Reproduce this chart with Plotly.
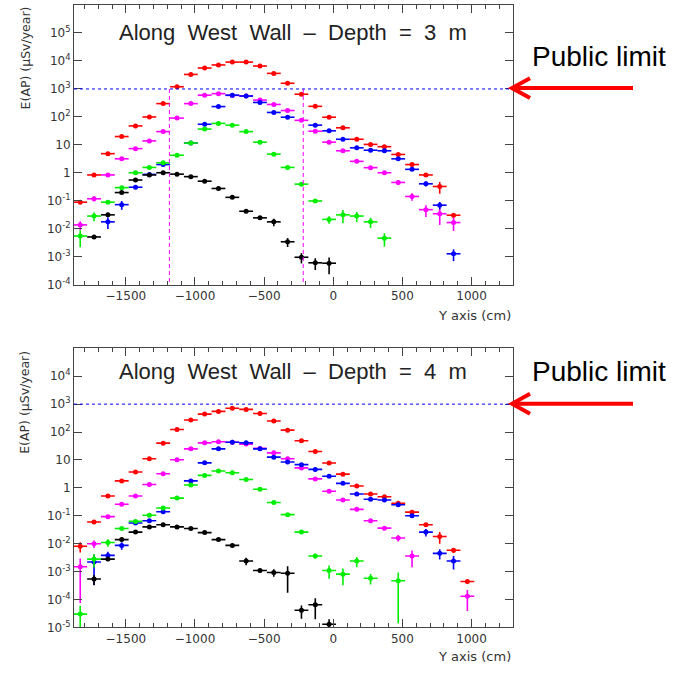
import plotly.graph_objects as go

# ---- data -------------------------------------------------------------
X_BINS = [-1830, -1730, -1630, -1530, -1430, -1330, -1230, -1130, -1030, -930,
          -830, -730, -630, -530, -430, -330, -230, -130, -30, 70,
          170, 270, 370, 470, 570, 670, 770, 870, 970]
BIN_HALF = 50
N = None

# Depth = 3 m
red_3 = [0.091, 0.85, 4.9, 20, 48, 100, 300, 1200, 3300, 5600, 7200, 9100, 9100, 6600, 3600,
         1600, 650, 240, 98, 41, 16, 10.5, 8.7, 4.6, 2.0, 0.85, 0.33, 0.031, N]
magenta_3 = [0.014, 0.12, 0.85, 3.2, 7.4, 14, 30, 91, 300, 600, 680, 590, 560, 400, 280,
             170, 76, 31, 12.6, 6.2, 2.6, 1.55, 1.02, 0.46, 0.145, 0.049, 0.035, 0.017, N]
blue_3 = [N, N, 0.018, 0.074, 0.31, 0.89, 2.0, N, 11.7, 55, 235, 600, 560, 330, 145,
          98, N, 51, 32, 16, 7.9, 6.5, 6.2, 3.2, 1.35, 0.41, 0.071, 0.0013, N]
green_3 = [0.0056, 0.029, 0.091, 0.30, 1.02, 1.58, 2.3, 4.3, 11.7, 37, 59, 51, 30, 12.6, 4.7,
           1.58, 0.40, 0.10, 0.022, 0.032, 0.029, 0.018, 0.0047, N, N, N, N, N, N]
black_3 = [N, 0.0052, 0.032, 0.20, 0.56, 0.85, 1.02, 0.91, 0.74, 0.51, 0.28, 0.135, 0.043, 0.025, 0.018,
           0.0035, 0.00098, 0.00062, 0.0006, N, N, N, N, N, N, N, N, N, N]

# Depth = 4 m
red_4 = [0.0081, 0.060, 0.51, 1.78, 3.7, 11, 40, 123, 270, 440, 550, 710, 650, 460, 250,
         117, 49, 20, 7.8, 3.1, 1.17, 0.60, 0.48, 0.28, 0.135, 0.048, 0.018, 0.0058, 0.00044]
magenta_4 = [0.0015, 0.010, 0.093, 0.26, 0.51, 1.32, 3.2, 10.2, 25, 41, 45, 43, 37, 26, 18,
             11, 5.2, 2.1, 0.76, 0.37, 0.17, 0.066, 0.036, 0.016, 0.0036, N, N, N, 0.00013]
blue_4 = [N, 0.0022, 0.0038, 0.0087, 0.055, 0.066, 0.14, N, 1.78, 7.9, 25, 43, 41, 25, 12.6,
          8.5, 6.8, 4.6, 2.6, 1.45, 0.60, 0.39, 0.37, 0.25, 0.10, 0.026, 0.0045, 0.0024, N]
green_4 = [0.00003, 0.0028, 0.011, 0.035, 0.063, 0.105, 0.19, 0.43, 1.26, 2.8, 4.0, 3.5, 2.0, 0.89, 0.30,
           0.11, 0.026, 0.0036, 0.0011, 0.00081, 0.0024, 0.00058, N, 0.00047, N, N, N, N, N]
black_4 = [N, 0.00054, 0.0028, 0.014, 0.026, 0.040, 0.048, 0.040, 0.035, 0.025, 0.014, 0.0087, 0.0024, 0.0011, 0.00093,
           0.00087, 0.000041, 0.000065, 0.000013, N, N, N, N, N, N, N, N, N, N]

# relative vertical errors (default small)
DEFAULT_REL = 0.05
rel_red_3 = {0: 0.15, 26: 0.45, 27: 0.2}
rel_magenta_3 = {0: 0.35, 1: 0.2, 23: 0.2, 24: 0.3, 25: 0.45, 26: 0.6, 27: 0.5}
rel_blue_3 = {2: 0.45, 3: 0.35, 24: 0.1, 25: 0.2, 26: 0.3, 27: 0.45}
rel_green_3 = {0: 0.6, 1: 0.35, 18: 0.3, 19: 0.5, 20: 0.4, 21: 0.4, 22: 0.5}
rel_black_3 = {14: 0.3, 15: 0.35, 16: 0.4, 17: 0.45, 18: 0.6}

rel_red_4 = {0: 0.4, 26: 0.45, 27: 0.2}
rel_magenta_4 = {0: 0.95, 1: 0.3, 23: 0.25, 24: 0.6, 28: 0.7}
rel_blue_4 = {1: 0.85, 2: 0.35, 3: 0.3, 25: 0.3, 26: 0.4, 27: 0.5}
rel_green_4 = {0: 0.95, 1: 0.5, 2: 0.3, 17: 0.2, 18: 0.5, 19: 0.6, 20: 0.4, 21: 0.4, 23: 0.97}
rel_black_4 = {1: 0.4, 12: 0.3, 14: 0.3, 15: 0.8, 16: 0.5, 17: 0.7, 18: 0.5}

Y_TICK_EXP_3 = [-4, -3, -2, -1, 0, 1, 2, 3, 4, 5]
Y_TICK_EXP_4 = [-5, -4, -3, -2, -1, 0, 1, 2, 3, 4]
X_TICKS = [-1500, -1000, -500, 0, 500, 1000]
PUBLIC_LIMIT = 1000
CUT_LINES_3 = [-1185, -217]

SP = "\u00a0 "
TITLE_3 = SP.join(["Along", "West", "Wall", "\u2013", "Depth", "=", "3", "m"])
TITLE_4 = SP.join(["Along", "West", "Wall", "\u2013", "Depth", "=", "4", "m"])
Y_TITLE = "E(AP) (\u03bcSv/year)"
X_TITLE = "Y axis (cm)"

COLORS = {"red": "#ff0000", "magenta": "#ff00ff", "blue": "#0000ff", "green": "#00ee00", "black": "#000000"}

# ---- figure -------------------------------------------------------------
W, H = 673, 674
fig = go.Figure()


def px_x(p):
    return p / W


def px_y(p):
    return 1 - p / H


def errs(vals, rel):
    return [None if v is None else v * rel.get(i, DEFAULT_REL) for i, v in enumerate(vals)]


panels = [
    ("x", "y", [("red", red_3, rel_red_3), ("magenta", magenta_3, rel_magenta_3),
                ("blue", blue_3, rel_blue_3), ("green", green_3, rel_green_3),
                ("black", black_3, rel_black_3)]),
    ("x2", "y2", [("red", red_4, rel_red_4), ("magenta", magenta_4, rel_magenta_4),
                  ("blue", blue_4, rel_blue_4), ("green", green_4, rel_green_4),
                  ("black", black_4, rel_black_4)]),
]

for xa, ya, series in panels:
    for cname, vals, rel in series:
        c = COLORS[cname]
        e = errs(vals, rel)
        fig.add_trace(go.Scatter(
            x=X_BINS, y=vals, xaxis=xa, yaxis=ya, mode="markers",
            marker=dict(color=c, size=5, symbol="circle"),
            error_x=dict(type="constant", value=BIN_HALF, color=c, thickness=1.6, width=0),
            error_y=dict(type="data", array=e, arrayminus=e, color=c, thickness=1.6, width=0),
            showlegend=False, hoverinfo="skip"))

# dashed vertical cut lines on depth 3 m panel
for xc in CUT_LINES_3:
    fig.add_trace(go.Scatter(x=[xc, xc], y=[PUBLIC_LIMIT, 1e-4], xaxis="x", yaxis="y", mode="lines",
                             line=dict(color="#ff00ff", width=1, dash="4px,3px"),
                             showlegend=False, hoverinfo="skip"))

font_axes = dict(family="DejaVu Sans", size=12, color="#333333")
xdom = [74 / W, 513 / W]


def xaxis_cfg(anchor):
    return dict(domain=xdom, anchor=anchor, range=[-1875, 1300], tickvals=X_TICKS,
                ticks="inside", ticklen=8, tickcolor="#444", showline=True, linecolor="#444",
                linewidth=1, mirror="ticks", showgrid=False, zeroline=False, tickfont=font_axes,
                minor=dict(ticks="inside", ticklen=4, dtick=100, tickcolor="#444", showgrid=False))


def yaxis_cfg(anchor, dom, rng, exps):
    txt = []
    for e in exps:
        if e == 0:
            txt.append("1")
        elif e == 1:
            txt.append("10")
        else:
            txt.append("10<sup>%d</sup>" % e)
    return dict(domain=dom, anchor=anchor, type="log", range=rng,
                tickvals=[10.0 ** e for e in exps], ticktext=txt,
                ticks="inside", ticklen=8, tickcolor="#444", showline=True, linecolor="#444",
                linewidth=1, mirror="ticks", showgrid=False, zeroline=False, tickfont=font_axes)


fig.update_layout(
    width=W, height=H, margin=dict(l=0, r=0, t=0, b=0),
    paper_bgcolor="white", plot_bgcolor="white",
    xaxis=xaxis_cfg("y"),
    yaxis=yaxis_cfg("x", [1 - 288 / H, 1 - 5 / H], [-4, 6], Y_TICK_EXP_3),
    xaxis2=xaxis_cfg("y2"),
    yaxis2=yaxis_cfg("x2", [1 - 634 / H, 1 - 352 / H], [-5, 5], Y_TICK_EXP_4),
)

# public limit dotted lines
for xr, yr in [("x domain", "y"), ("x2 domain", "y2")]:
    fig.add_shape(type="line", xref=xr, yref=yr, x0=0, x1=1, y0=PUBLIC_LIMIT, y1=PUBLIC_LIMIT,
                  line=dict(color="#0000ff", width=1, dash="dot"))

ann = []
title_font = dict(family="Liberation Sans", size=22, color="#222222")
ann.append(dict(text=TITLE_3, x=px_x(293), y=px_y(33), xref="paper", yref="paper",
                showarrow=False, font=title_font, xanchor="center", yanchor="middle"))
ann.append(dict(text=TITLE_4, x=px_x(293), y=px_y(375), xref="paper", yref="paper",
                showarrow=False, font=title_font, xanchor="center", yanchor="middle"))
ytitle_font = dict(family="DejaVu Sans", size=12.5, color="#333333")
for yc in (59, 407):
    ann.append(dict(text=Y_TITLE, x=px_x(25), y=px_y(yc), xref="paper", yref="paper",
                    showarrow=False, textangle=-90, font=ytitle_font, xanchor="center", yanchor="middle"))
xtitle_font = dict(family="DejaVu Sans", size=13, color="#333333")
for yc in (319, 663):
    ann.append(dict(text=X_TITLE, x=px_x(513), y=px_y(yc), xref="paper", yref="paper",
                    showarrow=False, font=xtitle_font, xanchor="right", yanchor="middle"))
for yc in (57, 375):
    ann.append(dict(text="Public limit", x=px_x(599), y=px_y(yc), xref="paper", yref="paper",
                    showarrow=False, font=dict(family="Liberation Sans", size=28, color="black"),
                    xanchor="center", yanchor="middle"))
fig.update_layout(annotations=ann)

# red arrows
for ya in (89, 408):
    fig.add_shape(type="line", xref="paper", yref="paper", x0=px_x(633), x1=px_x(513),
                  y0=px_y(ya), y1=px_y(ya), line=dict(color="#ff0000", width=4))
    fig.add_shape(type="path", xref="paper", yref="paper",
                  path="M %f %f L %f %f L %f %f" % (px_x(530), px_y(ya - 10), px_x(512), px_y(ya),
                                                     px_x(530), px_y(ya + 10)),
                  line=dict(color="#ff0000", width=4))

fig.write_html("out.html", config={"displayModeBar": False},
               post_script="document.body.style.margin='0px';document.body.style.overflow='hidden';")
